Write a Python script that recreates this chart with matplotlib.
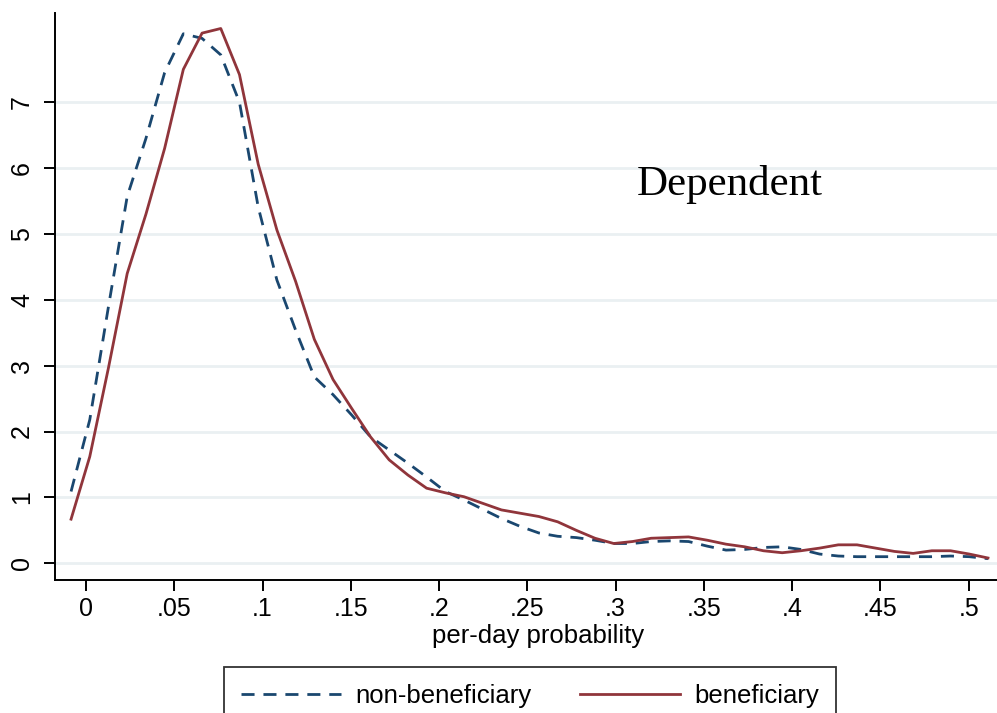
import matplotlib
matplotlib.use("Agg")
import matplotlib.pyplot as plt
from matplotlib.lines import Line2D

# kernel density evaluation points (per-day probability)
grid = [-0.0085, 0.0021, 0.0127, 0.0233, 0.0339, 0.0445, 0.0551, 0.0657, 0.0763, 0.0869,
        0.0975, 0.1081, 0.1187, 0.1293, 0.1399, 0.1505, 0.1611, 0.1717, 0.1823, 0.1929,
        0.2035, 0.2141, 0.2247, 0.2353, 0.2459, 0.2565, 0.2671, 0.2777, 0.2883, 0.2989,
        0.3095, 0.3201, 0.3307, 0.3413, 0.3519, 0.3625, 0.3731, 0.3837, 0.3943, 0.4049,
        0.4155, 0.4261, 0.4367, 0.4473, 0.4579, 0.4685, 0.4791, 0.4897, 0.5003, 0.5109]

non_benef = [1.09, 2.18, 3.90, 5.57, 6.45, 7.45, 8.04, 7.97, 7.72, 7.00,
             5.41, 4.30, 3.54, 2.83, 2.56, 2.25, 1.92, 1.72, 1.52, 1.31,
             1.09, 0.96, 0.82, 0.68, 0.56, 0.46, 0.41, 0.39, 0.35, 0.30,
             0.30, 0.33, 0.34, 0.33, 0.26, 0.20, 0.21, 0.24, 0.25, 0.21,
             0.14, 0.11, 0.10, 0.10, 0.10, 0.10, 0.10, 0.11, 0.10, 0.07]

benef = [0.67, 1.62, 2.97, 4.40, 5.30, 6.30, 7.50, 8.05, 8.12, 7.42,
         6.06, 5.06, 4.28, 3.40, 2.79, 2.35, 1.92, 1.57, 1.34, 1.14,
         1.07, 1.01, 0.91, 0.81, 0.76, 0.71, 0.63, 0.50, 0.38, 0.30,
         0.33, 0.38, 0.39, 0.40, 0.35, 0.29, 0.25, 0.19, 0.16, 0.19,
         0.23, 0.28, 0.28, 0.23, 0.18, 0.15, 0.19, 0.19, 0.14, 0.08]

xticks = [0, 0.05, 0.1, 0.15, 0.2, 0.25, 0.3, 0.35, 0.4, 0.45, 0.5]
xtick_labels = ["0", ".05", ".1", ".15", ".2", ".25", ".3", ".35", ".4", ".45", ".5"]
yticks = [0, 1, 2, 3, 4, 5, 6, 7]

NAVY = "#1a476f"
MAROON = "#90353b"
GRID = "#eaf0f2"
LW = 2.0
DASH = (4.7, 3.2)

plt.rcParams["font.family"] = ["Liberation Sans", "DejaVu Sans"]

W, H = 997, 713
fig = plt.figure(figsize=(W / 100, H / 100), dpi=100)
ax = fig.add_axes([55 / W, 1 - 580 / H, 1 - 55 / W, (580 - 12.7) / H])

for y in yticks:
    ax.axhline(y, color=GRID, lw=2.0, zorder=0)

ax.plot(grid, non_benef, color=NAVY, lw=LW, dashes=DASH, label="non-beneficiary")
ax.plot(grid, benef, color=MAROON, lw=LW, label="beneficiary")

ax.set_xlim(-0.0176, 0.516)
ax.set_ylim(-0.254, 8.36)
ax.set_xticks(xticks)
ax.set_xticklabels(xtick_labels)
ax.set_yticks(yticks)
ax.set_yticklabels([str(v) for v in yticks], rotation=90, va="center")

for side in ("top", "right"):
    ax.spines[side].set_visible(False)
for side in ("left", "bottom"):
    ax.spines[side].set_linewidth(1.4)
ax.tick_params(axis="both", direction="out", length=8, width=1.4, labelsize=18, colors="black")
ax.tick_params(axis="x", pad=4)
ax.tick_params(axis="y", pad=7)

fig.text(538 / W, 1 - 643 / H, "per-day probability", ha="center", va="baseline", fontsize=18.5)
fig.text(729.5 / W, 1 - 195 / H, "Dependent", ha="center", va="baseline",
         fontsize=31, family=["Liberation Serif", "DejaVu Serif"])

handles = [Line2D([], [], color=NAVY, lw=LW, dashes=DASH),
           Line2D([], [], color=MAROON, lw=LW)]
top = 1 - 667.3 / H
leg = fig.legend(handles, ["non-beneficiary", "beneficiary"], loc="upper left",
                 bbox_to_anchor=(224.3 / W, top - 0.1, (836 - 224.3) / W, 0.1),
                 mode="expand", ncol=2, fontsize=18.5, handlelength=3.9, handletextpad=0.55,
                 columnspacing=1.0, borderpad=0.65, borderaxespad=0, fancybox=False,
                 frameon=True, framealpha=1)
leg.get_frame().set_edgecolor("#333333")
leg.get_frame().set_linewidth(1.3)

fig.savefig("out.png", dpi=100)
